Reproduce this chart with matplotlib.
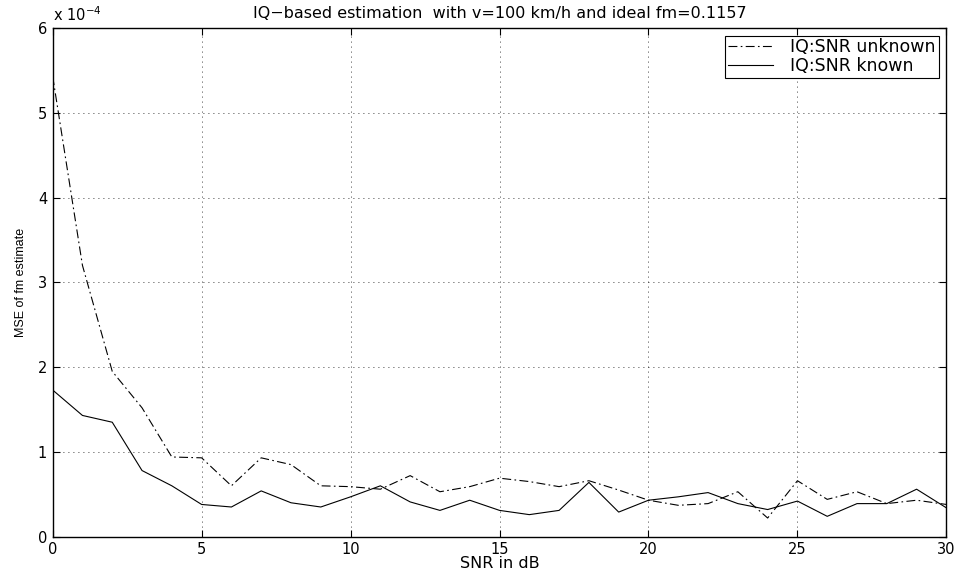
import numpy as np
import matplotlib.pyplot as plt

plt.rcParams['font.family'] = ['DejaVu Sans']
plt.rcParams['mathtext.fontset'] = 'dejavusans'

# data (MSE values in units of 1e-4)
snr_db = list(range(0, 31))
mse_unknown = [5.43, 3.20, 1.95, 1.52, 0.94, 0.93, 0.60, 0.93, 0.85, 0.60,
               0.59, 0.56, 0.72, 0.53, 0.59, 0.69, 0.65, 0.59, 0.66, 0.55,
               0.43, 0.37, 0.39, 0.53, 0.22, 0.66, 0.44, 0.53, 0.39, 0.43,
               0.38]
mse_known = [1.73, 1.43, 1.35, 0.78, 0.60, 0.38, 0.35, 0.54, 0.40, 0.35,
             0.47, 0.60, 0.41, 0.31, 0.43, 0.31, 0.26, 0.31, 0.64, 0.29,
             0.43, 0.47, 0.52, 0.39, 0.32, 0.42, 0.24, 0.39, 0.39, 0.56,
             0.34]

fig = plt.figure(figsize=(9.61, 5.8), dpi=100)
ax = fig.add_axes([0.0548, 0.0747, 0.930, 0.877])

ax.plot(snr_db, mse_unknown, color='k', lw=0.8, linestyle=(0, (8, 3, 1.5, 3)),
        label='IQ:SNR unknown')
ax.plot(snr_db, mse_known, color='k', lw=0.8, linestyle='-',
        label='IQ:SNR known')

ax.set_xlim(0, 30)
ax.set_ylim(0, 6)
ax.set_xticks(np.arange(0, 31, 5))
ax.set_yticks(np.arange(0, 7, 1))
ax.grid(True, color='k', linestyle=(0, (1, 5)), linewidth=0.6)
ax.tick_params(direction='in', top=True, right=True, length=5, width=0.8,
               labelsize=10.5, pad=4)
for s in ax.spines.values():
    s.set_linewidth(1.0)

ax.text(0.0, 1.008, r'x 10$^{-4}$', transform=ax.transAxes, fontsize=10.5,
        ha='left', va='bottom')
ax.set_title('IQ\u2212based estimation  with v=100 km/h and ideal fm=0.1157',
             fontsize=11.5, pad=7)
ax.set_xlabel('SNR in dB', fontsize=11.5, labelpad=-1)
ax.set_ylabel('MSE of fm estimate', fontsize=9, labelpad=8,
              family='Liberation Sans')

leg = ax.legend(loc='upper right', fontsize=12.5, fancybox=False,
                edgecolor='k', framealpha=1, borderaxespad=0.45,
                handlelength=2.6, handletextpad=1.0, borderpad=0.15,
                labelspacing=0.05)
leg.get_frame().set_linewidth(0.8)

fig.savefig('out.png', dpi=100)
